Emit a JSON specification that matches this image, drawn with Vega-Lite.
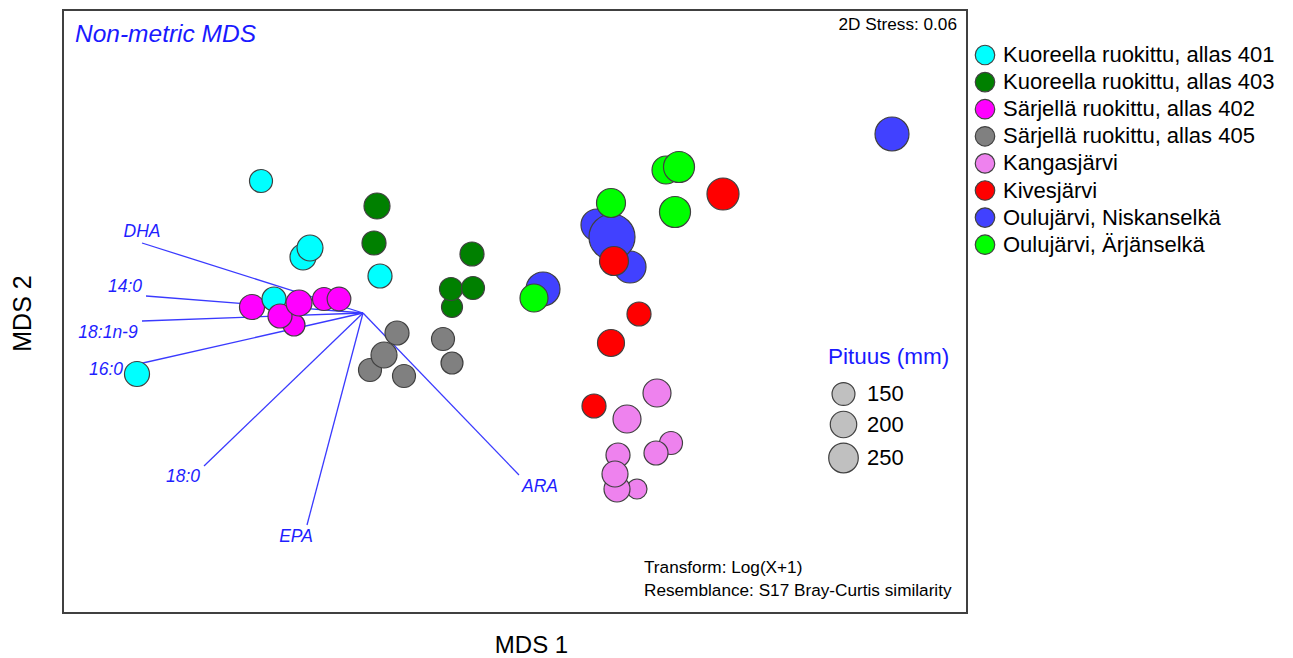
{
  "$schema": "https://vega.github.io/schema/vega-lite/v6.json",
  "width": 904,
  "height": 603,
  "autosize": {"type": "none"},
  "padding": {"left": 63, "top": 10, "right": 326, "bottom": 45},
  "background": "white",
  "config": {
    "font": "Liberation Sans",
    "view": {"stroke": "#404040", "strokeWidth": 2}
  },
  "encoding": {
    "x": {
      "field": "x", "type": "quantitative",
      "scale": {"domain": [-4.52, 4.52], "nice": false, "zero": false},
      "axis": {"title": "MDS 1", "domain": false, "ticks": false, "labels": false, "grid": false,
               "titleFontSize": 24, "titleFontWeight": "normal", "titleColor": "black", "titleFont": "Liberation Sans",
               "titleX": 468, "titleY": 32, "titleBaseline": "middle", "titleAlign": "center"}
    },
    "y": {
      "field": "y", "type": "quantitative",
      "scale": {"domain": [-3.01, 3.02], "nice": false, "zero": false},
      "axis": {"title": "MDS 2", "domain": false, "ticks": false, "labels": false, "grid": false,
               "titleFontSize": 25, "titleFontWeight": "normal", "titleColor": "black", "titleFont": "Liberation Sans",
               "titleX": -33, "titleY": 303, "titleBaseline": "alphabetic", "titleAlign": "center", "titleAngle": 270}
    }
  },
  "layer": [
    {
      "data": {"values": [
        {"name": "DHA", "x": -1.52, "y": -0.01, "x2": -3.73, "y2": 0.69},
        {"name": "14:0", "x": -1.52, "y": -0.01, "x2": -3.69, "y2": 0.16},
        {"name": "18:1n-9", "x": -1.52, "y": -0.01, "x2": -3.73, "y2": -0.09},
        {"name": "16:0", "x": -1.52, "y": -0.01, "x2": -3.81, "y2": -0.53},
        {"name": "18:0", "x": -1.52, "y": -0.01, "x2": -3.11, "y2": -1.54},
        {"name": "EPA", "x": -1.52, "y": -0.01, "x2": -2.08, "y2": -2.13},
        {"name": "ARA", "x": -1.52, "y": -0.01, "x2": 0.04, "y2": -1.63}
      ]},
      "mark": {"type": "rule", "color": "#3a3aff", "strokeWidth": 1.3},
      "encoding": {
        "x2": {"field": "x2"},
        "y2": {"field": "y2"}
      }
    },
    {
      "data": {"values": [
        {"group": "Särjellä ruokittu, allas 402", "x": -2.21, "y": -0.13, "pituus": 138},
        {"group": "Särjellä ruokittu, allas 402", "x": -2.63, "y": 0.05, "pituus": 179},
        {"group": "Kuoreella ruokittu, allas 401", "x": -2.41, "y": 0.13, "pituus": 165},
        {"group": "Särjellä ruokittu, allas 402", "x": -2.35, "y": -0.04, "pituus": 165},
        {"group": "Särjellä ruokittu, allas 402", "x": -2.16, "y": 0.09, "pituus": 193},
        {"group": "Särjellä ruokittu, allas 402", "x": -1.91, "y": 0.13, "pituus": 151},
        {"group": "Särjellä ruokittu, allas 402", "x": -1.76, "y": 0.13, "pituus": 160},
        {"group": "Kuoreella ruokittu, allas 401", "x": -2.54, "y": 1.31, "pituus": 151},
        {"group": "Kuoreella ruokittu, allas 401", "x": -2.12, "y": 0.55, "pituus": 193},
        {"group": "Kuoreella ruokittu, allas 401", "x": -2.05, "y": 0.64, "pituus": 193},
        {"group": "Kuoreella ruokittu, allas 401", "x": -1.35, "y": 0.36, "pituus": 165},
        {"group": "Kuoreella ruokittu, allas 401", "x": -3.78, "y": -0.62, "pituus": 179},
        {"group": "Kuoreella ruokittu, allas 403", "x": -1.38, "y": 1.06, "pituus": 193},
        {"group": "Kuoreella ruokittu, allas 403", "x": -1.41, "y": 0.69, "pituus": 165},
        {"group": "Kuoreella ruokittu, allas 403", "x": -0.43, "y": 0.58, "pituus": 165},
        {"group": "Kuoreella ruokittu, allas 403", "x": -0.63, "y": 0.05, "pituus": 126},
        {"group": "Kuoreella ruokittu, allas 403", "x": -0.64, "y": 0.23, "pituus": 151},
        {"group": "Kuoreella ruokittu, allas 403", "x": -0.42, "y": 0.24, "pituus": 151},
        {"group": "Särjellä ruokittu, allas 405", "x": -1.18, "y": -0.21, "pituus": 165},
        {"group": "Särjellä ruokittu, allas 405", "x": -1.45, "y": -0.58, "pituus": 151},
        {"group": "Särjellä ruokittu, allas 405", "x": -1.31, "y": -0.43, "pituus": 193},
        {"group": "Särjellä ruokittu, allas 405", "x": -1.11, "y": -0.64, "pituus": 151},
        {"group": "Särjellä ruokittu, allas 405", "x": -0.72, "y": -0.27, "pituus": 151},
        {"group": "Särjellä ruokittu, allas 405", "x": -0.63, "y": -0.51, "pituus": 138},
        {"group": "Kangasjärvi", "x": 1.42, "y": -0.81, "pituus": 224},
        {"group": "Kangasjärvi", "x": 1.12, "y": -1.07, "pituus": 224},
        {"group": "Kangasjärvi", "x": 1.22, "y": -1.77, "pituus": 114},
        {"group": "Kangasjärvi", "x": 1.02, "y": -1.77, "pituus": 193},
        {"group": "Kangasjärvi", "x": 1.03, "y": -1.43, "pituus": 165},
        {"group": "Kangasjärvi", "x": 1.00, "y": -1.62, "pituus": 193},
        {"group": "Kangasjärvi", "x": 1.56, "y": -1.31, "pituus": 151},
        {"group": "Kangasjärvi", "x": 1.41, "y": -1.41, "pituus": 165},
        {"group": "Oulujärvi, Niskanselkä", "x": 3.77, "y": 1.78, "pituus": 330},
        {"group": "Oulujärvi, Niskanselkä", "x": 1.15, "y": 0.45, "pituus": 293},
        {"group": "Oulujärvi, Niskanselkä", "x": 0.82, "y": 0.87, "pituus": 293},
        {"group": "Oulujärvi, Niskanselkä", "x": 0.97, "y": 0.75, "pituus": 605},
        {"group": "Oulujärvi, Niskanselkä", "x": 0.28, "y": 0.23, "pituus": 330},
        {"group": "Oulujärvi, Ärjänselkä", "x": 1.51, "y": 1.42, "pituus": 224},
        {"group": "Oulujärvi, Ärjänselkä", "x": 1.64, "y": 1.45, "pituus": 275},
        {"group": "Oulujärvi, Ärjänselkä", "x": 1.60, "y": 1.00, "pituus": 275},
        {"group": "Oulujärvi, Ärjänselkä", "x": 0.96, "y": 1.09, "pituus": 240},
        {"group": "Oulujärvi, Ärjänselkä", "x": 0.19, "y": 0.14, "pituus": 224},
        {"group": "Kivesjärvi", "x": 2.08, "y": 1.18, "pituus": 293},
        {"group": "Kivesjärvi", "x": 0.99, "y": 0.51, "pituus": 240},
        {"group": "Kivesjärvi", "x": 1.24, "y": -0.02, "pituus": 165},
        {"group": "Kivesjärvi", "x": 0.96, "y": -0.31, "pituus": 208},
        {"group": "Kivesjärvi", "x": 0.79, "y": -0.94, "pituus": 165}
      ]},
      "mark": {"type": "circle", "opacity": 1, "stroke": "#404040", "strokeWidth": 1.2},
      "encoding": {
        "color": {
          "field": "group", "type": "nominal",
          "scale": {
            "domain": ["Kuoreella ruokittu, allas 401", "Kuoreella ruokittu, allas 403", "Särjellä ruokittu, allas 402", "Särjellä ruokittu, allas 405", "Kangasjärvi", "Kivesjärvi", "Oulujärvi, Niskanselkä", "Oulujärvi, Ärjänselkä"],
            "range": ["#00ffff", "#008000", "#ff00ff", "#808080", "#ee82ee", "#ff0000", "#4141ff", "#00ff00"]
          },
          "legend": {
            "orient": "none", "legendX": 911, "legendY": 34, "direction": "vertical",
            "title": null, "padding": 0,
            "symbolType": "circle", "symbolSize": 380, "symbolStrokeColor": "#404040", "symbolStrokeWidth": 1.2, "symbolOpacity": 1,
            "labelFontSize": 22, "labelFont": "Liberation Sans", "labelColor": "black", "labelLimit": 400, "labelOffset": 7,
            "rowPadding": 1.1
          }
        },
        "size": {
          "field": "pituus", "type": "quantitative",
          "scale": {"type": "linear", "domain": [0, 1000], "range": [0, 3500], "zero": true},
          "legend": {
            "orient": "none", "legendX": 765, "legendY": 336, "direction": "vertical",
            "title": "Pituus (mm)", "titleColor": "#1a1aff", "titleFontSize": 22.5, "titleFont": "Liberation Sans", "titleFontWeight": "normal", "titlePadding": 13,
            "values": [150, 200, 250], "padding": 0,
            "symbolType": "circle", "symbolFillColor": "#c0c0c0", "symbolStrokeColor": "#404040", "symbolStrokeWidth": 1.2, "symbolOpacity": 1,
            "labelFontSize": 22, "labelFont": "Liberation Sans", "labelColor": "black", "labelOffset": 8, "rowPadding": 0,
            "encode": {"symbols": {"update": {"fill": {"value": "#c0c0c0"}, "stroke": {"value": "#404040"}, "opacity": {"value": 1}}}}
          }
        }
      }
    },
    {
      "data": {"values": [
        {"name": "DHA", "x": -3.73, "y": 0.80},
        {"name": "14:0", "x": -3.90, "y": 0.25},
        {"name": "18:1n-9", "x": -4.07, "y": -0.21},
        {"name": "16:0", "x": -4.09, "y": -0.58},
        {"name": "18:0", "x": -3.32, "y": -1.65},
        {"name": "EPA", "x": -2.19, "y": -2.25},
        {"name": "ARA", "x": 0.25, "y": -1.75}
      ]},
      "mark": {"type": "text", "align": "center", "baseline": "middle", "fontStyle": "italic", "fontSize": 17.5, "color": "#1f1fff", "font": "Liberation Sans"},
      "encoding": {"text": {"field": "name"}}
    },
    {
      "data": {"values": [{"label": "Non-metric MDS", "x": -4.40, "y": 2.70}]},
      "mark": {"type": "text", "align": "left", "baseline": "alphabetic", "fontStyle": "italic", "fontSize": 24.5, "color": "#1a1aff", "font": "Liberation Sans"},
      "encoding": {"text": {"field": "label"}}
    },
    {
      "data": {"values": [{"label": "2D Stress: 0.06", "x": 4.42, "y": 2.82}]},
      "mark": {"type": "text", "align": "right", "baseline": "alphabetic", "fontSize": 17.2, "color": "black", "font": "Liberation Sans"},
      "encoding": {"text": {"field": "label"}}
    },
    {
      "data": {"values": [
        {"label": "Transform: Log(X+1)", "x": 1.29, "y": -2.61},
        {"label": "Resemblance: S17 Bray-Curtis similarity", "x": 1.29, "y": -2.84}
      ]},
      "mark": {"type": "text", "align": "left", "baseline": "alphabetic", "fontSize": 17.2, "color": "black", "font": "Liberation Sans"},
      "encoding": {"text": {"field": "label"}}
    }
  ]
}
